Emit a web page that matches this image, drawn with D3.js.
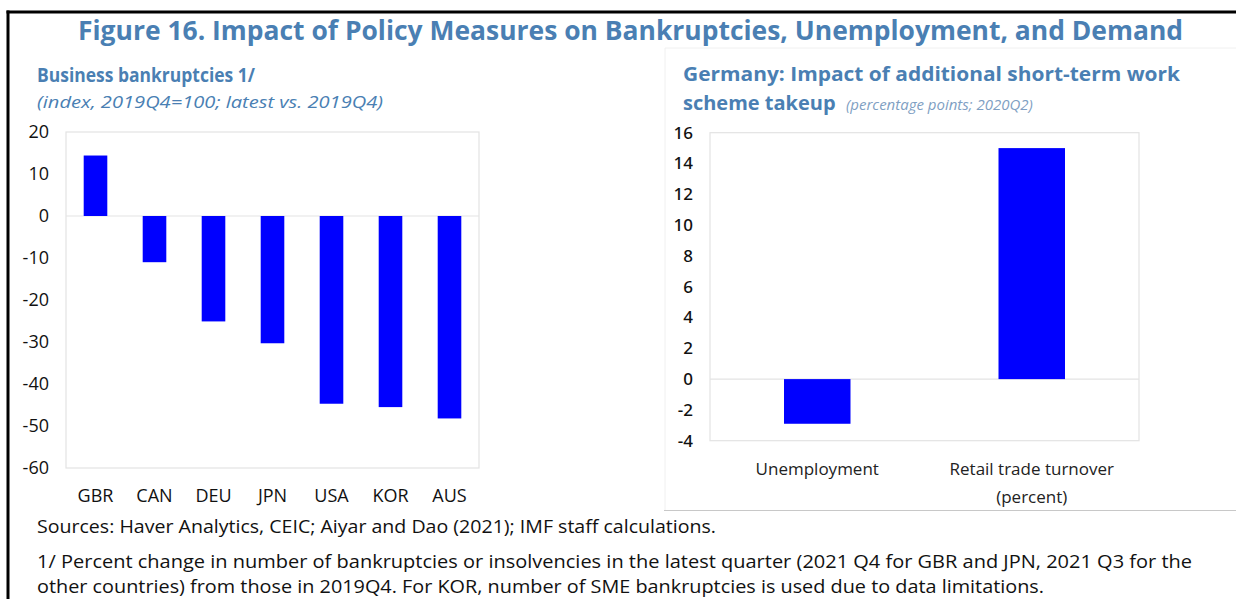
<!DOCTYPE html>
<html>
<head>
<meta charset="utf-8">
<script src="https://cdn.jsdelivr.net/npm/d3@7"></script>
<style>
  body { margin: 0; background: #fff; }
  svg { display: block; font-family: "Open Sans", sans-serif; }
</style>
</head>
<body>
<svg id="chart" width="1236" height="599"></svg>
<script>
// Data
const countries = ["GBR", "CAN", "DEU", "JPN", "USA", "KOR", "AUS"];
const bankruptcyValues = [14.4, -11, -25.1, -30.3, -44.7, -45.5, -48.2];
const leftTicks = [20, 10, 0, -10, -20, -30, -40, -50, -60];

const germanyCategories = ["Unemployment", "Retail trade turnover|(percent)"];
const germanyValues = [-2.9, 15.0];
const rightTicks = [16, 14, 12, 10, 8, 6, 4, 2, 0, -2, -4];

const blue = "#0000ff";
const titleColor = "#4a7fb3";
const plainFormat = (d) => String(d); // hyphen minus, like the original

const svg = d3.select("#chart");

// Frame
svg.append("line").attr("x1", 6.5).attr("x2", 1236).attr("y1", 12).attr("y2", 12)
  .attr("stroke", "#000").attr("stroke-width", 3);
svg.append("line").attr("x1", 8).attr("x2", 8).attr("y1", 10.5).attr("y2", 599)
  .attr("stroke", "#000").attr("stroke-width", 3);

// Title
svg.append("text")
  .attr("x", 78).attr("y", 40)
  .attr("textLength", 1105).attr("lengthAdjust", "spacingAndGlyphs")
  .attr("fill", titleColor).style("font-size", "26px").style("font-weight", 700)
  .text("Figure 16. Impact of Policy Measures on Bankruptcies, Unemployment, and Demand");

// Right panel box
svg.append("path")
  .attr("d", "M665,510 V48 H1236")
  .attr("fill", "none").attr("stroke", "#f0f0f0").attr("stroke-width", 1);
svg.append("line").attr("x1", 664).attr("x2", 1236).attr("y1", 510.5).attr("y2", 510.5)
  .attr("stroke", "#c8c8c8").attr("stroke-width", 1.2);

// ---------- Left chart ----------
const left = { x0: 66, x1: 479, y0: 132, y1: 468 };

svg.append("text").attr("x", 37).attr("y", 82)
  .attr("textLength", 218).attr("lengthAdjust", "spacingAndGlyphs")
  .attr("fill", titleColor).style("font-size", "20px").style("font-weight", 700)
  .text("Business bankruptcies 1/");
svg.append("text").attr("x", 37).attr("y", 108)
  .attr("textLength", 346).attr("lengthAdjust", "spacingAndGlyphs")
  .attr("fill", titleColor).style("font-size", "17px").style("font-style", "italic")
  .text("(index, 2019Q4=100; latest vs. 2019Q4)");

const xL = d3.scaleBand().domain(countries).range([left.x0, left.x1]).paddingInner(0.6).paddingOuter(0.3);
const yL = d3.scaleLinear().domain([-60, 20]).range([left.y1, left.y0]);

const gL = svg.append("g");
gL.append("rect")
  .attr("x", left.x0).attr("y", left.y0)
  .attr("width", left.x1 - left.x0).attr("height", left.y1 - left.y0)
  .attr("fill", "none").attr("stroke", "#e3e3e3").attr("stroke-width", 1.2);
gL.append("line")
  .attr("x1", left.x0).attr("x2", left.x1).attr("y1", yL(0)).attr("y2", yL(0))
  .attr("stroke", "#e3e3e3").attr("stroke-width", 1.2);

gL.selectAll("rect.bar")
  .data(countries)
  .join("rect")
  .attr("class", "bar")
  .attr("x", (d) => xL(d))
  .attr("width", xL.bandwidth())
  .attr("y", (d, i) => yL(Math.max(0, bankruptcyValues[i])))
  .attr("height", (d, i) => Math.abs(yL(bankruptcyValues[i]) - yL(0)))
  .attr("fill", blue);

const yAxisL = d3.axisLeft(yL).tickValues(leftTicks).tickFormat(plainFormat).tickSize(0).tickPadding(17);
gL.append("g")
  .attr("transform", `translate(${left.x0},0)`)
  .call(yAxisL)
  .call((g) => g.select(".domain").remove())
  .selectAll("text")
  .style("font-family", "'Open Sans', sans-serif")
  .style("font-size", "18px")
  .attr("fill", "#111");

const xAxisL = d3.axisBottom(xL).tickSize(0).tickPadding(21);
gL.append("g")
  .attr("transform", `translate(0,${left.y1})`)
  .call(xAxisL)
  .call((g) => g.select(".domain").remove())
  .selectAll("text")
  .style("font-family", "'Open Sans', sans-serif")
  .style("font-size", "18px")
  .attr("fill", "#111");

// ---------- Right chart ----------
const right = { x0: 710, x1: 1139, y0: 132.7, y1: 440.7 };

svg.append("text").attr("x", 683).attr("y", 81)
  .attr("textLength", 497).attr("lengthAdjust", "spacingAndGlyphs")
  .attr("fill", titleColor).style("font-size", "20px").style("font-weight", 700)
  .text("Germany: Impact of additional short-term work");
const sub2 = svg.append("text").attr("x", 683).attr("y", 110);
sub2.append("tspan")
  .attr("fill", titleColor).style("font-size", "20px").style("font-weight", 700)
  .text("scheme takeup");
sub2.append("tspan").attr("x", 846)
  .attr("fill", "#7f9fc3").style("font-size", "15px").style("font-style", "italic")
  .text("(percentage points; 2020Q2)");

const xR = d3.scaleBand().domain(germanyCategories).range([right.x0, right.x1]).paddingInner(0.69).paddingOuter(0.345);
const yR = d3.scaleLinear().domain([-4, 16]).range([right.y1, right.y0]);

const gR = svg.append("g");
gR.append("rect")
  .attr("x", right.x0).attr("y", right.y0)
  .attr("width", right.x1 - right.x0).attr("height", right.y1 - right.y0)
  .attr("fill", "none").attr("stroke", "#e3e3e3").attr("stroke-width", 1.2);
gR.append("line")
  .attr("x1", right.x0).attr("x2", right.x1).attr("y1", yR(0)).attr("y2", yR(0))
  .attr("stroke", "#e3e3e3").attr("stroke-width", 1.2);

gR.selectAll("rect.bar")
  .data(germanyCategories)
  .join("rect")
  .attr("class", "bar")
  .attr("x", (d) => xR(d))
  .attr("width", xR.bandwidth())
  .attr("y", (d, i) => yR(Math.max(0, germanyValues[i])))
  .attr("height", (d, i) => Math.abs(yR(germanyValues[i]) - yR(0)))
  .attr("fill", blue);

const yAxisR = d3.axisLeft(yR).tickValues(rightTicks).tickFormat(plainFormat).tickSize(0).tickPadding(17);
gR.append("g")
  .attr("transform", `translate(${right.x0},0)`)
  .call(yAxisR)
  .call((g) => g.select(".domain").remove())
  .selectAll("text")
  .style("font-family", "'Noto Sans', sans-serif")
  .style("font-size", "17px")
  .style("font-weight", 500)
  .attr("fill", "#111");

const xAxisR = d3.axisBottom(xR).tickSize(0).tickFormat("");
const xAxisRG = gR.append("g")
  .attr("transform", `translate(0,${right.y1})`)
  .call(xAxisR)
  .call((g) => g.select(".domain").remove());
xAxisRG.selectAll(".tick text").remove();
xAxisRG.selectAll(".tick")
  .append("text")
  .attr("text-anchor", "middle")
  .attr("fill", "#222")
  .style("font-family", "'Open Sans', sans-serif")
  .style("font-size", "17px")
  .selectAll("tspan")
  .data((d) => d.split("|"))
  .join("tspan")
  .attr("x", 0)
  .attr("y", (d, i) => 34 + i * 28)
  .text((d) => d);

// ---------- Footer ----------
const footerLines = [
  { text: "Sources: Haver Analytics, CEIC; Aiyar and Dao (2021); IMF staff calculations.", y: 533, w: 679 },
  { text: "1/ Percent change in number of bankruptcies or insolvencies in the latest  quarter (2021 Q4 for GBR and JPN, 2021 Q3 for the", y: 568, w: 1155 },
  { text: "other countries) from those in 2019Q4.  For KOR, number of SME bankruptcies is used due to data limitations.", y: 593, w: 1007 },
];
svg.selectAll("text.footer")
  .data(footerLines)
  .join("text")
  .attr("class", "footer")
  .attr("x", 37)
  .attr("y", (d) => d.y)
  .attr("textLength", (d) => d.w)
  .attr("lengthAdjust", "spacingAndGlyphs")
  .attr("fill", "#111")
  .style("font-size", "18px")
  .text((d) => d.text);
</script>
</body>
</html>
